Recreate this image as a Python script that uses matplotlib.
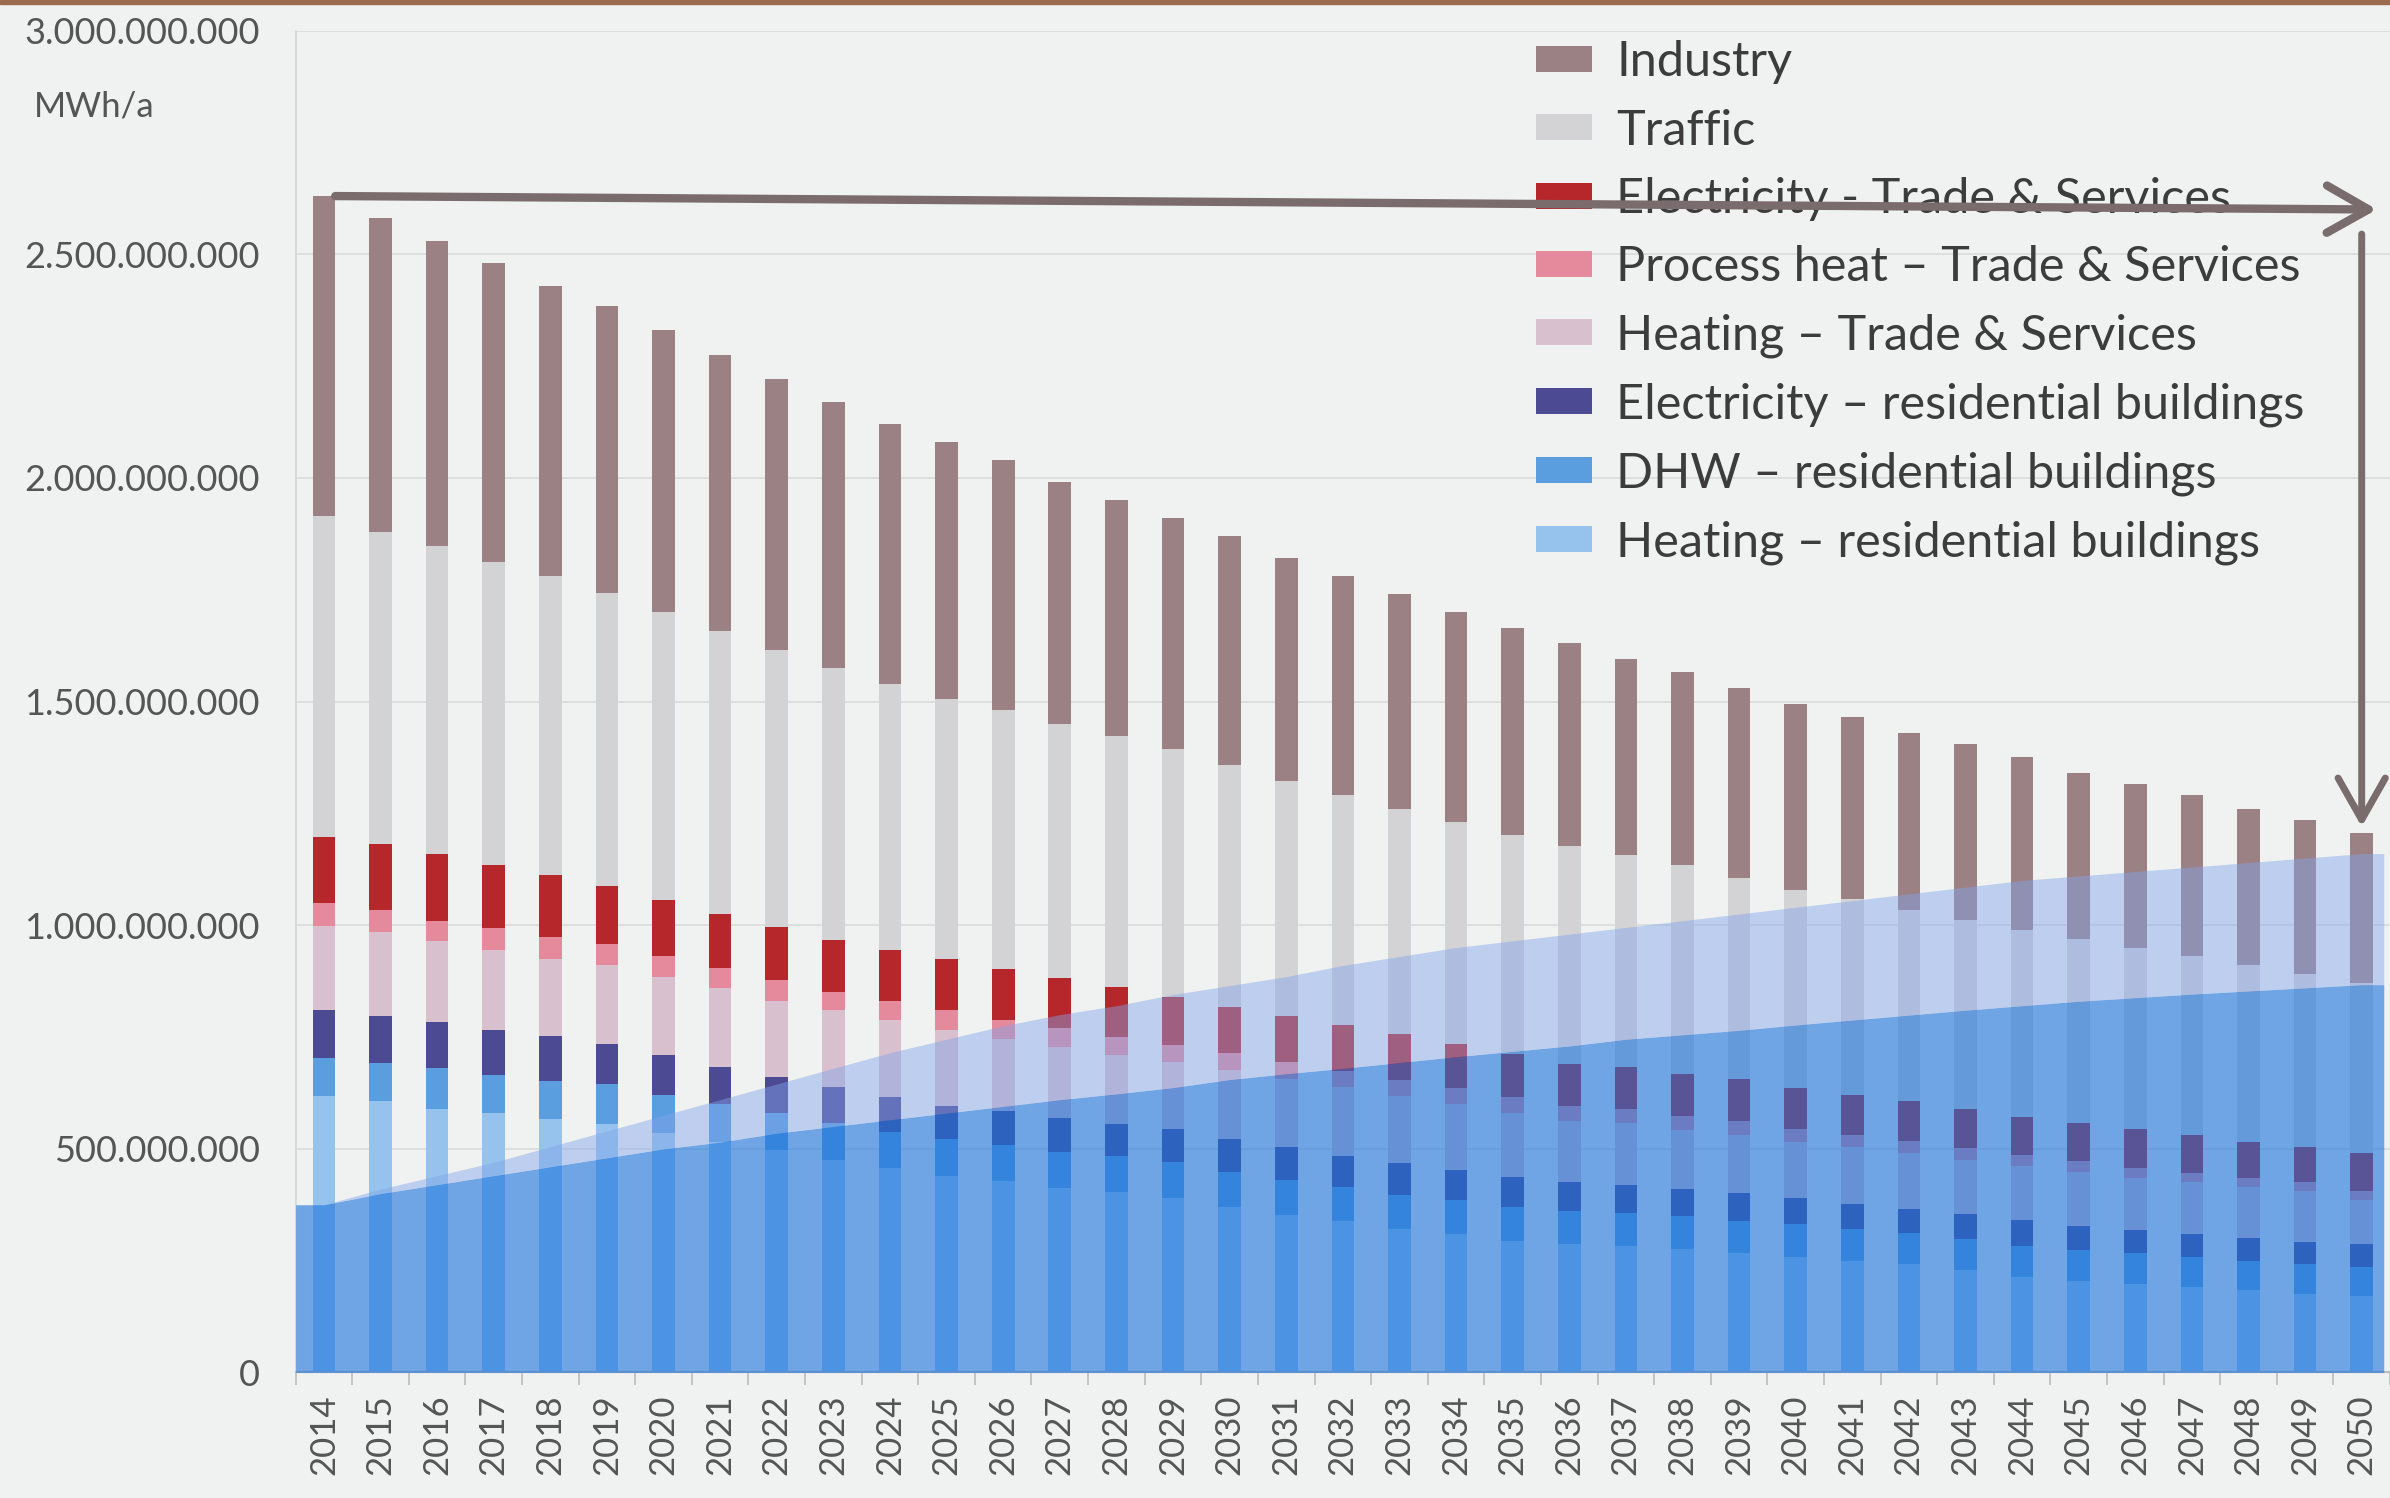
import numpy as np
import matplotlib.pyplot as plt
from matplotlib.patches import Rectangle
from matplotlib.ticker import FuncFormatter

plt.rcParams['font.family'] = ['Lato', 'DejaVu Sans']

years = np.arange(2014, 2051)

# final energy demand per sector, million MWh/a (stacked bottom -> top)
heating_res = [618, 606, 590, 579, 567, 556, 536, 516, 497, 475, 456, 439, 427, 413, 404, 391, 370, 352, 338,
               321, 309, 295, 288, 283, 276, 266, 259, 250, 242, 228, 214, 205, 198, 191, 184, 176, 170]
dhw_res = [85, 86, 90, 87, 85, 88, 85, 84, 83, 83, 82, 82, 81, 80, 80, 79, 78, 78, 77,
           76, 76, 75, 74, 74, 73, 72, 72, 71, 70, 70, 69, 68, 68, 67, 66, 66, 65]
elec_res = [108, 104, 103, 100, 100, 90, 88, 84, 80, 80, 78, 74, 77, 77, 72, 74, 74, 73, 69,
            71, 68, 67, 63, 61, 62, 64, 59, 56, 54, 57, 57, 55, 52, 52, 50, 50, 52]
heating_ts = [188, 189, 182, 178, 173, 176, 176, 176, 170, 173, 172, 171, 160, 158, 153, 149, 154, 154, 154,
              150, 147, 144, 138, 140, 131, 130, 126, 126, 124, 121, 121, 120, 116, 115, 114, 113, 99]
process_ts = [51, 48, 45, 49, 49, 49, 46, 45, 47, 40, 42, 45, 43, 42, 41, 40, 39, 38, 37,
              36, 35, 34, 33, 32, 31, 30, 29, 28, 27, 26, 25, 24, 23, 22, 21, 20, 19]
elec_ts = [148, 148, 148, 142, 139, 129, 125, 119, 120, 116, 114, 114, 114, 112, 112, 107, 103, 102, 102,
           103, 100, 97, 94, 92, 95, 93, 92, 89, 89, 87, 86, 86, 88, 84, 81, 79, 85]
traffic = [717, 699, 689, 678, 667, 654, 644, 633, 618, 608, 596, 581, 578, 568, 560, 553, 539, 526, 515,
           503, 495, 489, 487, 475, 466, 451, 441, 439, 429, 423, 418, 412, 405, 399, 394, 386, 380]
industry = [715, 700, 683, 667, 650, 643, 630, 618, 605, 595, 580, 574, 560, 540, 528, 517, 513, 497, 488,
            480, 470, 464, 453, 438, 431, 424, 417, 406, 395, 393, 385, 370, 365, 360, 350, 345, 335]

# translucent area series drawn over the bars, million MWh/a
area_lower = [375, 400, 420, 440, 460, 480, 500, 515, 535, 550, 565, 580, 595, 610, 623, 637, 655, 668, 680,
              693, 706, 718, 730, 745, 755, 765, 777, 788, 799, 810, 820, 830, 838, 846, 853, 860, 867]
area_upper = [375, 410, 440, 470, 505, 540, 575, 610, 645, 680, 715, 745, 775, 800, 820, 845, 865, 885, 910,
              930, 950, 965, 980, 995, 1010, 1025, 1040, 1055, 1070, 1085, 1100, 1110, 1120, 1130, 1140, 1150, 1160]

labels = ['Heating \u2013 residential buildings', 'DHW \u2013 residential buildings',
          'Electricity \u2013 residential buildings', 'Heating \u2013 Trade & Services',
          'Process heat \u2013 Trade & Services', 'Electricity - Trade & Services', 'Traffic', 'Industry']
colors = ['#96c3ee', '#5a9ee0', '#4b4a92', '#d9c0cf', '#e48a9c', '#b5272a', '#d3d3d6', '#9c8184']

fig = plt.figure(figsize=(23.9, 14.98), dpi=100, facecolor='#eff2f1')
ax = fig.add_axes([0.1237, 0.0838, 0.8763, 0.8958])
ax.set_facecolor('none')

series = [heating_res, dhw_res, elec_res, heating_ts, process_ts, elec_ts, traffic, industry]
bottom = np.zeros(len(years))
handles = []
for vals, lab, col in zip(series, labels, colors):
    v = np.array(vals) * 1e6
    b = ax.bar(years, v, width=0.4, bottom=bottom, color=col, label=lab, zorder=2)
    handles.append(b)
    bottom += v
totals = bottom

ax.set_xlim(2013.5, 2050.39)
ax.set_ylim(0, 3e9)

# overlay areas, stretched to the plot edges
xl = ax.get_xlim()
xs = np.r_[xl[0], years, xl[1]]
lo = np.array(area_lower) * 1e6
up = np.array(area_upper) * 1e6
lo = np.r_[lo[0], lo, lo[-1]]
up = np.r_[up[0], up, up[-1]]
ax.fill_between(xs, 0, lo, color='#1b73de', alpha=0.6, lw=0, zorder=3)
ax.fill_between(xs, lo, up, color='#82a4eb', alpha=0.45, lw=0, zorder=3)

# axes styling
ax.yaxis.grid(True, color='#dadcdc', lw=1.2)
ax.set_axisbelow(True)
for s in ['top', 'right']:
    ax.spines[s].set_visible(False)
ax.spines['left'].set_color('#d4d8d8')
ax.spines['left'].set_linewidth(1.2)
ax.spines['bottom'].set_color('#bdbdbd')
ax.spines['bottom'].set_linewidth(1.6)

ax.set_xticks(years)
ax.set_xticklabels([str(y) for y in years], rotation=90)
ax.set_xticks(np.arange(2013.5, 2051, 1), minor=True)
ax.tick_params(axis='x', which='major', length=0, pad=16, labelsize=25, labelcolor='#555555')
ax.tick_params(axis='x', which='minor', length=9, width=1.4, color='#c4c4c4')
ax.set_yticks(np.arange(0, 3.01e9, 5e8))
ax.yaxis.set_major_formatter(FuncFormatter(lambda v, p: f'{int(v):,}'.replace(',', '.')))
ax.tick_params(axis='y', length=0, pad=26, labelsize=26, labelcolor='#555555')

fig.text(0.014, 0.9288, 'MWh/a', fontsize=25, color='#555555', va='center', ha='left')

leg = ax.legend(handles[::-1], labels[::-1], loc='upper left', bbox_to_anchor=(0.6427, 0.973),
                bbox_transform=fig.transFigure, frameon=False, fontsize=35, handlelength=1.15,
                handleheight=0.45, handletextpad=0.5, labelspacing=0.5, borderpad=0, borderaxespad=0)
for t in leg.get_texts():
    t.set_color('#3c3c3c')
leg.set_zorder(5)

# arrows: from 2014 level across to 2050, then down to the 2050 bar
arrow_col = '#7a6c6d'
ax.annotate('', xy=(years[-1] + 0.27, totals[0] - 30e6), xytext=(years[0] + 0.2, totals[0]),
            arrowprops=dict(arrowstyle='->,head_length=1.5,head_width=0.85', color=arrow_col, lw=6,
                            shrinkA=0, shrinkB=0, mutation_scale=20),
            zorder=6, annotation_clip=False)
ax.annotate('', xy=(years[-1], totals[-1] + 15e6), xytext=(years[-1], totals[0] - 85e6),
            arrowprops=dict(arrowstyle='->,head_length=1.5,head_width=0.85', color=arrow_col, lw=5,
                            shrinkA=0, shrinkB=0, mutation_scale=20),
            zorder=6, annotation_clip=False)

# screen border at the top of the photo
fig.patches.append(Rectangle((0, 1 - 4 / 1498), 1, 4 / 1498, transform=fig.transFigure,
                             color='#9c6a4c', zorder=10))

fig.savefig('out.png', dpi=100, facecolor=fig.get_facecolor())
